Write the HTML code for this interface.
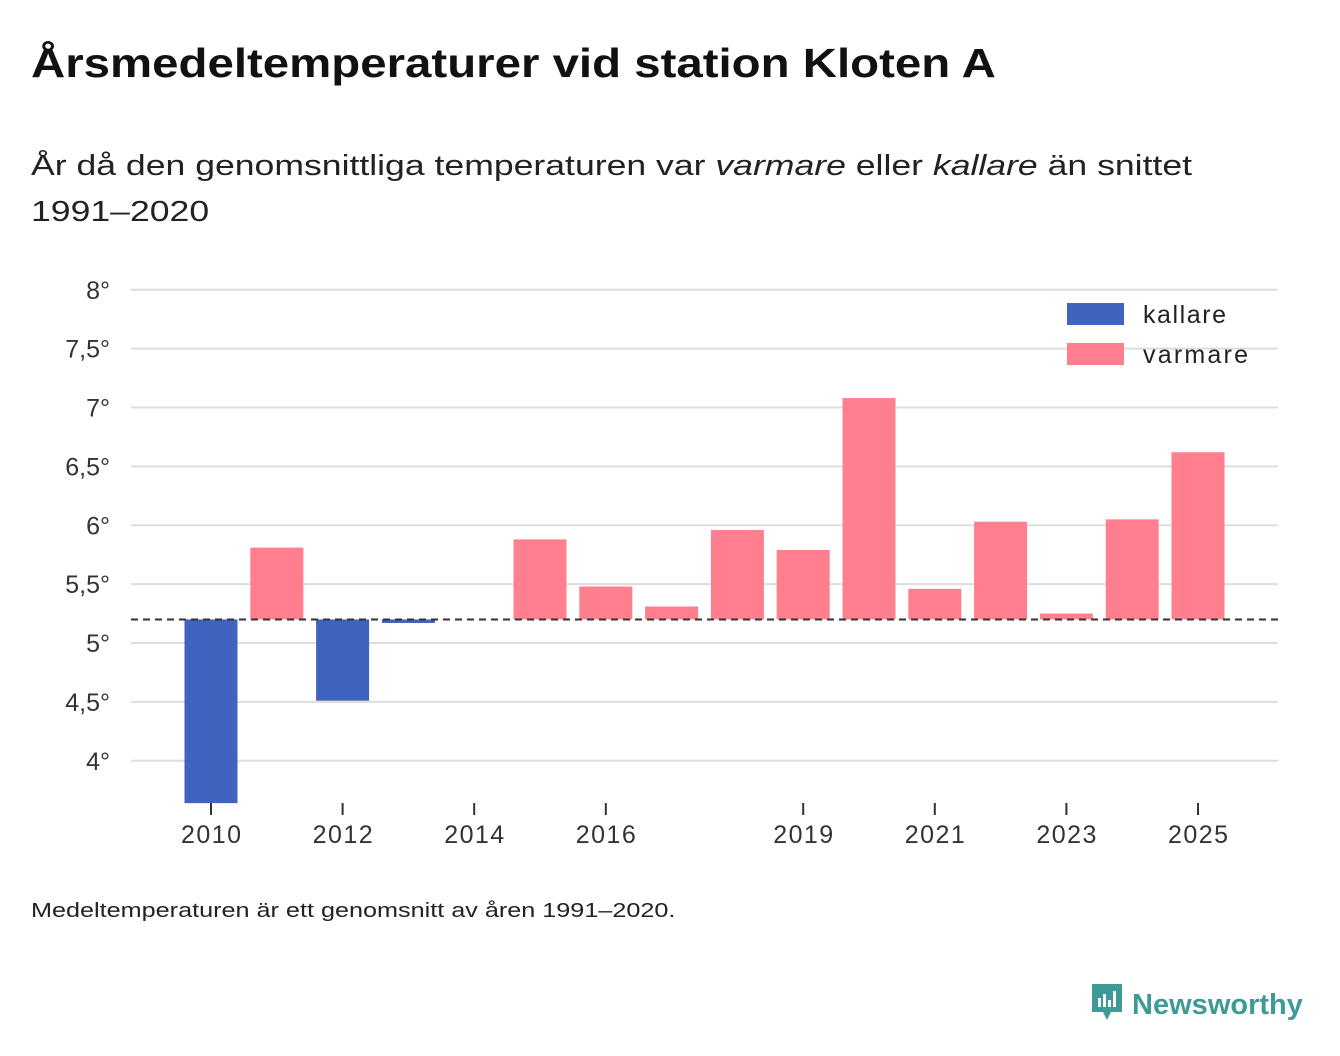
<!DOCTYPE html>
<html><head><meta charset="utf-8"><style>
body{margin:0;width:1340px;height:1056px;background:#fff;font-family:"Liberation Sans",sans-serif;color:#111;position:relative;overflow:hidden}
.t{position:absolute;left:31px;top:40px;font-size:41px;font-weight:bold;margin:0;transform:scaleX(1.156);transform-origin:0 0;white-space:nowrap}
.s{position:absolute;left:31px;top:143px;font-size:29px;line-height:46px;color:#222;transform:scaleX(1.227);transform-origin:0 0;white-space:nowrap}
.f{position:absolute;left:31px;top:900px;font-size:20px;color:#222;transform:scaleX(1.26);transform-origin:0 0;white-space:nowrap}
.logo{position:absolute;left:1090px;top:982px;font-size:29px;font-weight:bold;color:#3e9a97}
</style></head><body>
<h1 class="t">Årsmedeltemperaturer vid station Kloten A</h1>
<div class="s">År då den genomsnittliga temperaturen var <i>varmare</i> eller <i>kallare</i> än snittet<br>1991–2020</div>
<svg id="c" width="1340" height="1056" style="position:absolute;left:0;top:0"></svg>
<div class="f">Medeltemperaturen är ett genomsnitt av åren 1991–2020.</div>
<div class="logo"><svg width="34" height="40" style="vertical-align:-8px"><path d="M2 2h30v28h-11l-4 8-4-8H2z" fill="#3e9a97"/><rect x="8" y="16" width="3" height="9" fill="#fff"/><rect x="13" y="12" width="3" height="13" fill="#fff"/><rect x="18" y="18" width="3" height="7" fill="#fff"/><rect x="23" y="9" width="3" height="16" fill="#fff"/></svg> Newsworthy</div>
<script>
const years=[2010,2011,2012,2013,2014,2015,2016,2017,2018,2019,2020,2021,2022,2023,2024,2025];
const values=[3.64,5.81,4.51,5.17,null,5.88,5.48,5.31,5.96,5.79,7.08,5.46,6.03,5.25,6.05,6.62];
const baseline=5.2;
const yTicks=[4,4.5,5,5.5,6,6.5,7,7.5,8];
const xTicks=[2010,2012,2014,2016,2019,2021,2023,2025];
const NS="http://www.w3.org/2000/svg",svg=document.getElementById('c');
const y=v=>643-(v-5)*117.75, x=yr=>211+(yr-2010)*65.8;
function mk(t,a,txt){const e=document.createElementNS(NS,t);for(const k in a)e.setAttribute(k,a[k]);if(txt!=null)e.textContent=txt;svg.appendChild(e);return e;}
yTicks.forEach(v=>{
 const l=mk('line',{x1:131,x2:1278,y1:y(v),y2:y(v),stroke:'#ddd','stroke-width':2});
 
 
 const t=mk('text',{x:110,y:y(v)+9,'text-anchor':'end','font-size':25,fill:'#333'},String(v).replace('.',',')+'°');
 
 
});
years.forEach((yr,i)=>{const v=values[i];if(v==null)return;
 const top=Math.min(y(v),y(baseline)),h=Math.abs(y(v)-y(baseline));
 const r=mk('rect',{x:x(yr)-26.5,y:top,width:53,height:Math.max(h,1),fill:v<baseline?'#4063bf':'#ff7f8e'});
 
 
});
const bl=mk('line',{x1:131,x2:1278,y1:y(baseline),y2:y(baseline),stroke:'#333','stroke-width':2,'stroke-dasharray':'7,5'});


xTicks.forEach(yr=>{
 const l=mk('line',{x1:x(yr),x2:x(yr),y1:803,y2:815,stroke:'#333','stroke-width':2});
 
 
 const t=mk('text',{x:x(yr),y:843,'text-anchor':'middle','font-size':25,fill:'#333',textLength:60},yr);
 
 
});
[['kallare','#4063bf',314,83],['varmare','#ff7f8e',354,105]].forEach(([n,c,yy,w])=>{
 const r=mk('rect',{x:1067,y:yy-11,width:57,height:22,fill:c});
 
 
 const t=mk('text',{x:1143,y:yy+9,'font-size':25,fill:'#222',textLength:w},n);
 
 
});
</script>
</body></html>
